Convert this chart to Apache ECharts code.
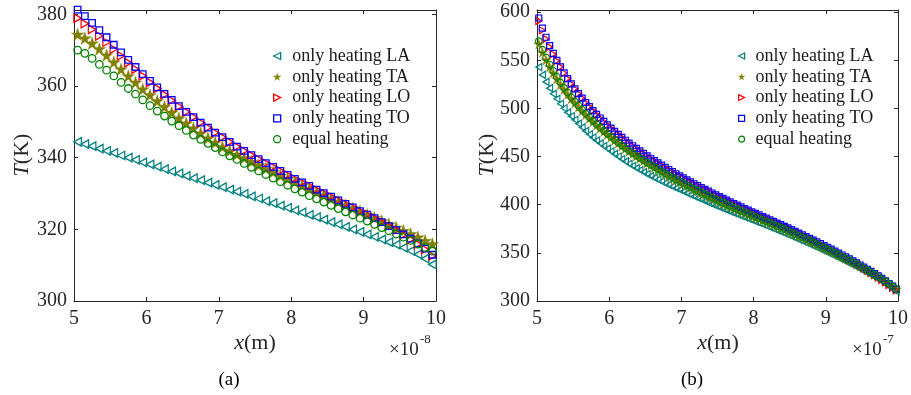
<!DOCTYPE html>
<html>
<head>
<meta charset="utf-8">
<script src="https://cdn.jsdelivr.net/npm/echarts@6/dist/echarts.min.js"></script>
<style>
html,body{margin:0;padding:0;background:#fff;}
#chart{width:911px;height:395px;}
</style>
</head>
<body>
<div id="chart"></div>
<script>
// ---------- DATA ----------
const seriesNames = ['only heating LA', 'only heating TA', 'only heating LO', 'only heating TO', 'equal heating'];
const xTicksA = [5, 6, 7, 8, 9, 10];
const yTicksA = [300, 320, 340, 360, 380];
const xTicksB = [5, 6, 7, 8, 9, 10];
const yTicksB = [300, 350, 400, 450, 500, 550, 600];

// panel (a): x in units of 1e-8 m
const xA = [5.05,5.15,5.25,5.35,5.45,5.55,5.65,5.75,5.85,5.95,6.05,6.15,6.25,6.35,6.45,6.55,6.65,6.75,6.85,6.95,
  7.05,7.15,7.25,7.35,7.45,7.55,7.65,7.75,7.85,7.95,8.05,8.15,8.25,8.35,8.45,8.55,8.65,8.75,8.85,8.95,
  9.05,9.15,9.25,9.35,9.45,9.55,9.65,9.75,9.85,9.95];
const laA = [344.4,343.8,343.2,342.5,341.9,341.3,340.6,340.0,339.4,338.7,338.1,337.5,336.8,336.2,335.6,334.9,334.3,333.7,333.0,332.4,
  331.8,331.1,330.5,329.9,329.2,328.6,327.9,327.3,326.6,326.0,325.3,324.7,324.0,323.4,322.7,322.0,321.4,320.7,320.0,319.3,
  318.6,317.9,317.2,316.4,315.7,314.9,314.0,313.0,311.8,310.2];
const taA = [374.4,373.3,371.9,370.3,368.6,366.6,364.7,362.8,361.0,359.1,357.5,355.8,354.2,352.6,351.0,349.6,348.2,346.8,345.4,344.2,
  343.0,341.9,340.9,339.9,338.9,337.9,336.9,336.0,335.0,334.1,333.2,332.2,331.3,330.4,329.5,328.6,327.7,326.8,325.9,325.0,
  324.1,323.2,322.3,321.4,320.5,319.6,318.7,317.8,316.8,315.9];
const loA = [378.9,377.4,375.8,374.0,372.2,370.3,368.4,366.5,364.7,362.8,361.0,359.3,357.6,356.0,354.3,352.8,351.3,349.8,348.4,347.0,
  345.7,344.4,343.1,341.9,340.7,339.6,338.5,337.4,336.3,335.2,334.1,333.1,332.1,331.1,330.1,329.1,328.1,327.1,326.1,325.1,
  324.1,323.1,322.0,320.9,319.8,318.5,317.2,315.9,314.4,312.6];
const toA = [381.3,379.5,377.6,375.6,373.6,371.5,369.4,367.3,365.3,363.3,361.4,359.6,357.8,356.1,354.4,352.8,351.3,349.8,348.4,347.0,
  345.7,344.4,343.1,341.9,340.7,339.6,338.5,337.4,336.3,335.2,334.1,333.1,332.1,331.1,330.1,329.1,328.1,327.1,326.1,325.1,
  324.1,323.1,322.0,320.9,319.8,318.6,317.4,316.1,314.6,312.9];
const eqA = [370.0,369.1,367.7,366.0,364.4,362.8,361.0,359.3,357.7,356.1,354.5,353.0,351.6,350.2,348.9,347.6,346.3,345.1,344.0,342.8,
  341.6,340.5,339.5,338.4,337.3,336.3,335.3,334.3,333.3,332.3,331.3,330.4,329.4,328.5,327.6,326.7,325.8,324.9,324.0,323.1,
  322.3,321.4,320.5,319.6,318.7,317.8,316.9,315.9,314.9,313.9];

// panel (b): x in units of 1e-7 m
const xB = [5.025,5.075,5.125,5.175,5.225,5.275,5.325,5.375,5.425,5.475,5.525,5.575,5.625,5.675,5.725,5.775,5.825,5.875,5.925,5.975,
  6.025,6.075,6.125,6.175,6.225,6.275,6.325,6.375,6.425,6.475,6.525,6.575,6.625,6.675,6.725,6.775,6.825,6.875,6.925,6.975,
  7.025,7.075,7.125,7.175,7.225,7.275,7.325,7.375,7.425,7.475,7.525,7.575,7.625,7.675,7.725,7.775,7.825,7.875,7.925,7.975,
  8.025,8.075,8.125,8.175,8.225,8.275,8.325,8.375,8.425,8.475,8.525,8.575,8.625,8.675,8.725,8.775,8.825,8.875,8.925,8.975,
  9.025,9.075,9.125,9.175,9.225,9.275,9.325,9.375,9.425,9.475,9.525,9.575,9.625,9.675,9.725,9.775,9.825,9.875,9.925,9.975];
const laB = [543.0,534.9,527.6,521.1,515.2,510.0,504.9,500.2,495.9,492.0,488.3,484.3,480.4,476.7,473.2,469.9,466.8,463.8,461.0,458.3,
  455.6,452.8,450.1,447.5,445.0,442.6,440.3,438.1,436.0,433.9,431.8,429.8,427.9,426.0,424.1,422.3,420.6,418.9,417.2,415.5,
  413.9,412.1,410.4,408.7,407.0,405.4,403.8,402.2,400.6,399.0,397.4,395.9,394.3,392.8,391.3,389.8,388.3,386.9,385.4,384.0,
  382.5,381.1,379.5,378.1,376.5,375.0,373.4,371.9,370.3,368.8,367.1,365.5,363.8,362.2,360.5,358.9,357.2,355.5,353.7,352.0,
  350.2,348.5,346.6,344.8,342.9,341.1,339.2,337.3,335.3,333.3,331.2,329.2,327.0,324.9,322.7,320.3,317.9,315.4,312.7,309.9];
const taB = [567.0,558.3,550.4,543.3,536.8,530.8,525.0,519.7,514.7,510.1,505.7,501.5,497.4,493.5,489.8,486.2,482.7,479.3,476.1,473.0,
  470.0,466.9,463.9,461.0,458.2,455.5,452.9,450.4,448.0,445.6,443.2,440.9,438.6,436.4,434.1,432.0,429.9,427.9,425.8,423.8,
  421.8,419.8,417.9,416.0,414.1,412.3,410.5,408.7,406.9,405.1,403.3,401.6,399.9,398.2,396.6,394.9,393.3,391.7,390.1,388.5,
  387.0,385.5,383.9,382.4,380.8,379.2,377.7,376.1,374.5,372.9,371.2,369.5,367.8,366.1,364.3,362.6,360.9,359.1,357.3,355.4,
  353.6,351.8,349.9,348.0,346.1,344.2,342.3,340.3,338.3,336.1,334.0,331.9,329.7,327.5,325.2,322.8,320.3,317.7,315.0,312.2];
const loB = [591.0,581.3,572.3,564.0,556.4,549.4,543.2,536.9,531.0,525.5,520.3,515.4,510.7,506.2,501.9,497.8,493.9,490.1,486.5,483.0,
  479.6,476.3,473.1,470.0,467.0,464.1,461.3,458.6,456.0,453.4,450.8,448.3,445.9,443.5,441.1,438.8,436.6,434.4,432.2,430.0,
  427.9,425.8,423.8,421.8,419.8,417.9,416.0,414.1,412.2,410.3,408.4,406.6,404.8,403.0,401.3,399.5,397.8,396.1,394.4,392.7,
  391.0,389.4,387.7,386.1,384.4,382.7,381.0,379.3,377.6,375.9,374.1,372.3,370.5,368.7,366.9,365.1,363.3,361.4,359.5,357.6,
  355.7,353.8,351.8,349.8,347.8,345.8,343.8,341.7,339.6,337.4,334.4,332.1,329.7,327.3,324.8,322.2,319.5,316.7,313.8,311.2];
const toB = [594.0,583.5,574.0,565.3,557.3,550.0,543.2,536.9,531.0,525.5,520.3,515.4,510.7,506.2,501.9,497.8,493.9,490.1,486.5,483.0,
  479.6,476.3,473.1,470.0,467.0,464.1,461.3,458.6,456.0,453.4,450.8,448.3,445.9,443.5,441.1,438.8,436.6,434.4,432.2,430.0,
  427.9,425.8,423.8,421.8,419.8,417.9,416.0,414.1,412.2,410.3,408.4,406.6,404.8,403.0,401.3,399.5,397.8,396.1,394.4,392.7,
  391.0,389.4,387.7,386.1,384.4,382.7,381.0,379.3,377.6,375.9,374.1,372.3,370.5,368.7,366.9,365.1,363.3,361.4,359.5,357.6,
  355.7,353.8,351.8,349.8,347.8,345.8,343.8,341.7,339.6,337.4,335.2,333.0,330.7,328.4,326.0,323.5,320.9,318.2,315.4,312.4];
const eqB = [570.0,561.1,553.0,545.7,539.0,532.8,526.9,521.5,516.4,511.7,507.2,502.9,498.7,494.7,490.9,487.2,483.6,480.1,476.8,473.6,
  470.5,467.4,464.4,461.5,458.7,456.0,453.4,450.9,448.5,446.1,443.7,441.4,439.1,436.9,434.6,432.5,430.4,428.4,426.3,424.3,
  422.3,420.3,418.4,416.5,414.6,412.8,411.0,409.2,407.4,405.6,403.8,402.1,400.4,398.7,397.1,395.4,393.8,392.2,390.6,389.0,
  387.4,385.9,384.3,382.8,381.1,379.5,377.9,376.3,374.7,373.0,371.3,369.6,367.9,366.2,364.4,362.7,361.0,359.2,357.4,355.5,
  353.7,351.9,350.0,348.1,346.1,344.2,342.3,340.3,338.3,336.1,334.0,331.9,329.7,327.5,325.2,322.8,320.3,317.7,315.0,312.1];

// ---------- STYLE ----------
const FONT = 'Liberation Serif';
const AX = '#262626';
const colors = ['#008080', '#808000', '#ff0000', '#0000ff', '#008000'];
const symLeft = 'path://M0,5L10,0L10,10Z';
const symRight = 'path://M10,5L0,0L0,10Z';
const symStar = 'path://M10,0L12.245,6.91L19.511,6.91L13.633,11.18L15.878,18.09L10,13.82L4.122,18.09L6.367,11.18L0.489,6.91L7.755,6.91Z';
const symSquare = 'path://M0,0L10,0L10,10L0,10Z';
const symCircle = 'path://M5,0A5,5,0,1,1,5,10A5,5,0,1,1,5,0Z';
const symbols = [symLeft, symStar, symRight, symSquare, symCircle];
const filled = [false, true, false, false, false];

const sizesA = [[7.5, 8.5], 12.5, [7.5, 8.5], 6.5, 7.5];
const sizesB = [[6, 7], 10, [6, 7], 6, 6.5];

function mkSeries(xs, ysList, sizes, xi, yi, bw) {
  return ysList.map((ys, k) => ({
    name: seriesNames[k],
    type: 'scatter',
    xAxisIndex: xi, yAxisIndex: yi,
    clip: false, silent: true,
    symbol: symbols[k],
    symbolSize: sizes[k],
    itemStyle: {
      color: filled[k] ? colors[k] : 'rgba(0,0,0,0)',
      borderColor: colors[k],
      borderWidth: filled[k] ? 0.4 : bw,
      opacity: 1
    },
    data: xs.map((x, i) => [x, ys[i]])
  }));
}

function xAx(grid, pos, show) {
  return {
    gridIndex: grid, type: 'value', min: 5, max: 10, interval: 1, position: pos,
    axisLine: { show: true, onZero: false, lineStyle: { color: AX, width: 1 } },
    axisTick: { show: true, inside: true, length: 4, lineStyle: { color: AX } },
    axisLabel: { show: show, margin: 8, fontFamily: FONT, fontSize: 20, color: AX,
      formatter: v => (xTicksA.indexOf(v) >= 0 ? String(v) : '') },
    splitLine: { show: false }
  };
}
function yAx(grid, pos, show, max, interval, ticks) {
  return {
    gridIndex: grid, type: 'value', min: 300, max: max, interval: interval, position: pos,
    axisLine: { show: true, onZero: false, lineStyle: { color: AX, width: 1 } },
    axisTick: { show: true, inside: true, length: 4, lineStyle: { color: AX } },
    axisLabel: { show: show, margin: 7, fontFamily: FONT, fontSize: 20, color: AX,
      formatter: v => (ticks.indexOf(v) >= 0 ? String(v) : '') },
    splitLine: { show: false }
  };
}

function mkLegend(left, top, iconW, iconH, bw) {
  return {
    orient: 'vertical', left: left, top: top,
    itemWidth: iconW, itemHeight: iconH, itemGap: 2.8,
    symbolKeepAspect: true, selectedMode: false,
    textStyle: { fontFamily: FONT, fontSize: 18, color: '#1a1a1a', lineHeight: 16 },
    data: seriesNames.map((n, k) => ({
      name: n, icon: symbols[k],
      itemStyle: {
        color: filled[k] ? colors[k] : 'rgba(0,0,0,0)',
        borderColor: colors[k], borderWidth: filled[k] ? 0.4 : bw
      }
    }))
  };
}

const chart = echarts.init(document.getElementById('chart'), null, { renderer: 'canvas' });
chart.setOption({
  animation: false,
  backgroundColor: '#fff',
  grid: [
    { left: 74, top: 10, width: 362, height: 291 },
    { left: 537, top: 10, width: 362, height: 291 }
  ],
  xAxis: [xAx(0, 'bottom', true), xAx(0, 'top', false), xAx(1, 'bottom', true), xAx(1, 'top', false)],
  yAxis: [
    yAx(0, 'left', true, 381.2, 20, yTicksA), yAx(0, 'right', false, 381.2, 20, yTicksA),
    yAx(1, 'left', true, 602.3, 50, yTicksB), yAx(1, 'right', false, 602.3, 50, yTicksB)
  ],
  legend: [mkLegend(268, 42, 20, 7, 1.3), mkLegend(733, 42, 18, 6, 1.2)],
  series: [
    ...mkSeries(xA, [laA, taA, loA, toA, eqA], sizesA, 0, 0, 1.3),
    ...mkSeries(xB, [laB, taB, loB, toB, eqB], sizesB, 2, 2, 1.2)
  ],
  graphic: [
    { type: 'text', x: 255, y: 343, style: { text: '{i|x}(m)', fontFamily: FONT, fontSize: 22, fill: '#262626', align: 'center', verticalAlign: 'middle',
      rich: { i: { fontStyle: 'italic', fontFamily: FONT, fontSize: 22, fill: '#262626' } } } },
    { type: 'text', x: 718, y: 343, style: { text: '{i|x}(m)', fontFamily: FONT, fontSize: 22, fill: '#262626', align: 'center', verticalAlign: 'middle',
      rich: { i: { fontStyle: 'italic', fontFamily: FONT, fontSize: 22, fill: '#262626' } } } },
    { type: 'text', x: 22, y: 155, rotation: Math.PI / 2, style: { text: '{i|T}(K)', fontFamily: FONT, fontSize: 22, fill: '#262626', align: 'center', verticalAlign: 'middle',
      rich: { i: { fontStyle: 'italic', fontFamily: FONT, fontSize: 22, fill: '#262626' } } } },
    { type: 'text', x: 487, y: 155, rotation: Math.PI / 2, style: { text: '{i|T}(K)', fontFamily: FONT, fontSize: 22, fill: '#262626', align: 'center', verticalAlign: 'middle',
      rich: { i: { fontStyle: 'italic', fontFamily: FONT, fontSize: 22, fill: '#262626' } } } },
    { type: 'text', x: 389, y: 350, style: { text: '×10', fontFamily: FONT, fontSize: 19, fill: '#262626', align: 'left', verticalAlign: 'middle' } },
    { type: 'text', x: 420, y: 340, style: { text: '-8', fontFamily: FONT, fontSize: 13, fill: '#262626', align: 'left', verticalAlign: 'middle' } },
    { type: 'text', x: 852, y: 350, style: { text: '×10', fontFamily: FONT, fontSize: 19, fill: '#262626', align: 'left', verticalAlign: 'middle' } },
    { type: 'text', x: 883, y: 340, style: { text: '-7', fontFamily: FONT, fontSize: 13, fill: '#262626', align: 'left', verticalAlign: 'middle' } },
    { type: 'text', x: 229, y: 380, style: { text: '(a)', fontFamily: FONT, fontSize: 19, fill: '#000', align: 'center', verticalAlign: 'middle' } },
    { type: 'text', x: 692, y: 380, style: { text: '(b)', fontFamily: FONT, fontSize: 19, fill: '#000', align: 'center', verticalAlign: 'middle' } }
  ]
});
</script>
</body>
</html>
